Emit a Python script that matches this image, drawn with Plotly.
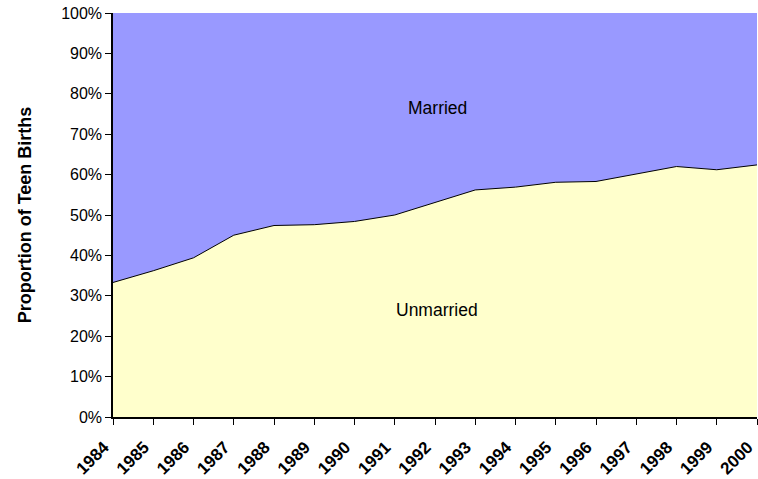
import plotly.graph_objects as go

years = list(range(1984, 2001))
unmarried = [33.3, 36.2, 39.4, 45.0, 47.4, 47.6, 48.4, 50.0, 53.1, 56.2, 56.9, 58.1, 58.3, 60.1, 62.0, 61.2, 62.4]
married = [round(100 - u, 1) for u in unmarried]
y_ticks = [0, 10, 20, 30, 40, 50, 60, 70, 80, 90, 100]
y_tick_labels = [f"{v}%" for v in y_ticks]

FONT = "Liberation Sans, Arial, sans-serif"

fig = go.Figure()
fig.add_trace(go.Scatter(
    x=years, y=unmarried, name="Unmarried", stackgroup="one", mode="lines",
    line=dict(color="black", width=1), fillcolor="#FFFFCC", hoverinfo="x+y",
))
fig.add_trace(go.Scatter(
    x=years, y=married, name="Married", stackgroup="one", mode="lines",
    line=dict(color="rgba(0,0,0,0)", width=0), fillcolor="#9999FF", hoverinfo="x+y",
))

fig.add_annotation(x=1992.05, y=76.5, text="Married", showarrow=False,
                   font=dict(family=FONT, size=17.5, color="black"))
fig.add_annotation(x=1992.05, y=26.5, text="Unmarried", showarrow=False,
                   font=dict(family=FONT, size=17.5, color="black"))

fig.update_layout(
    width=758, height=479,
    margin=dict(l=113, r=1, t=13, b=62, autoexpand=False),
    paper_bgcolor="white", plot_bgcolor="white",
    showlegend=False,
    font=dict(family=FONT, color="black"),
)
fig.update_xaxes(
    range=[1984, 2000], tickmode="array", tickvals=years, ticktext=[str(y) for y in years],
    tickangle=-45, ticks="outside", ticklen=6, tickcolor="black", tickwidth=1,
    ticklabeloverflow="allow", ticklabelshift=-9, ticklabelstandoff=6,
    showline=True, linecolor="black", linewidth=1.5, showgrid=False, zeroline=False,
    tickfont=dict(family=FONT, size=17, color="black", weight="bold"),
)
fig.update_yaxes(
    range=[0, 100], tickmode="array", tickvals=y_ticks, ticktext=y_tick_labels,
    ticks="outside", ticklen=6, tickcolor="black", tickwidth=1,
    showline=True, linecolor="black", linewidth=1.5, showgrid=False, zeroline=False,
    tickfont=dict(family=FONT, size=16, color="black"),
    title=dict(text="Proportion of Teen Births", standoff=25,
               font=dict(family=FONT, size=18, color="black", weight="bold")),
)

fig.write_html(
    "out.html",
    config={"displayModeBar": False},
    post_script="document.body.style.margin='0';document.body.style.overflow='hidden';",
)
